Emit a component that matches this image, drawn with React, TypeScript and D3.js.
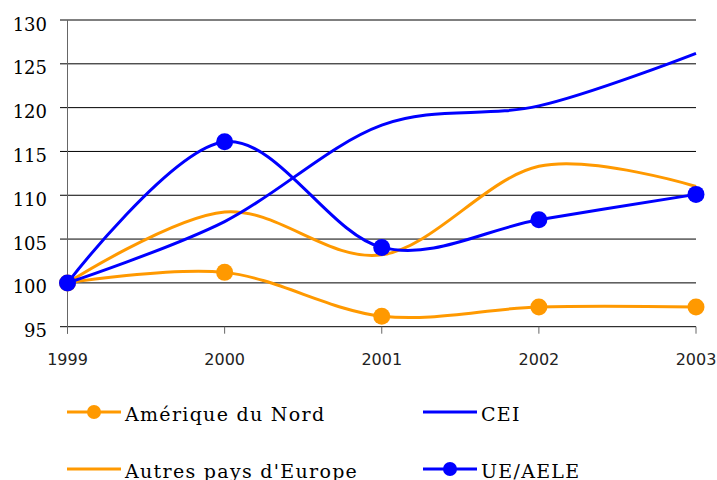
import React, { useMemo } from "react";
import * as d3 from "d3";

const years = [1999, 2000, 2001, 2002, 2003];
const ameriqueNord = [100, 101.2, 96.2, 97.25, 97.25];
const autresEurope = [100, 108.1, 103.2, 113.3, 111.0];
const cei = [100, 107.0, 118.0, 120.2, 126.2];
const ueAele = [100, 116.1, 104.05, 107.2, 110.1];
const yTicks = [95, 100, 105, 110, 115, 120, 125, 130];

const ORANGE = "#FF9900";
const BLUE = "#0000FF";

interface Series {
  name: string;
  values: number[];
  color: string;
  markers: boolean;
}

const series: Series[] = [
  { name: "Autres pays d'Europe", values: autresEurope, color: ORANGE, markers: false },
  { name: "Amérique du Nord", values: ameriqueNord, color: ORANGE, markers: true },
  { name: "CEI", values: cei, color: BLUE, markers: false },
  { name: "UE/AELE", values: ueAele, color: BLUE, markers: true },
];

const W = 717;
const H = 480;

export default function App() {
  const x = useMemo(
    () => d3.scaleLinear().domain([1999, 2003]).range([67.5, 696]),
    []
  );
  const y = useMemo(
    () => d3.scaleLinear().domain([95, 130]).range([326.7, 20]),
    []
  );

  const line = d3
    .line<number>()
    .x((_, i) => x(years[i]))
    .y((d) => y(d))
    .curve(d3.curveCardinal.tension(0));

  const legend = [
    { s: series[1], lx: 67, tx: 125, ly: 412, ty: 421 },
    { s: series[2], lx: 423, tx: 481, ly: 412, ty: 421 },
    { s: series[0], lx: 67, tx: 125, ly: 469, ty: 478 },
    { s: series[3], lx: 423, tx: 481, ly: 469, ty: 478 },
  ];

  return (
    <svg
      width={W}
      height={H}
      style={{ position: "absolute", left: 0, top: 0, background: "#fff" }}
    >
      {/* grid + y ticks */}
      {yTicks.map((t) => (
        <g key={t}>
          <line
            x1={60}
            x2={x(2003)}
            y1={y(t)}
            y2={y(t)}
            stroke="#000"
            strokeWidth={1}
          />
          <text
            x={47}
            y={y(t) + 10.5}
            textAnchor="end"
            fontFamily="DejaVu Serif"
            fontSize={18}
            fill="#000"
          >
            {t}
          </text>
        </g>
      ))}
      {/* y axis */}
      <line x1={x(1999)} x2={x(1999)} y1={y(130)} y2={y(95) + 7} stroke="#666" />
      {/* x ticks */}
      {years.map((yr) => (
        <g key={yr}>
          <line x1={x(yr)} x2={x(yr)} y1={y(95)} y2={y(95) + 7} stroke="#666" />
          <text
            x={x(yr)}
            y={365}
            textAnchor="middle"
            fontFamily="DejaVu Sans"
            fontSize={16}
            fill="#222"
          >
            {yr}
          </text>
        </g>
      ))}
      {/* series */}
      {series.map((s) => (
        <g key={s.name}>
          <path d={line(s.values) ?? ""} fill="none" stroke={s.color} strokeWidth={3} />
          {s.markers &&
            s.values.map((v, i) => (
              <circle key={i} cx={x(years[i])} cy={y(v)} r={8.5} fill={s.color} />
            ))}
        </g>
      ))}
      {/* legend */}
      {legend.map(({ s, lx, tx, ly, ty }) => (
        <g key={s.name}>
          <line x1={lx} x2={lx + 54} y1={ly} y2={ly} stroke={s.color} strokeWidth={3} />
          {s.markers && <circle cx={lx + 27} cy={ly} r={7} fill={s.color} />}
          <text
            x={tx}
            y={ty}
            fontFamily="DejaVu Serif"
            fontSize={19}
            letterSpacing={1.3}
            fill="#000"
          >
            {s.name}
          </text>
        </g>
      ))}
    </svg>
  );
}
